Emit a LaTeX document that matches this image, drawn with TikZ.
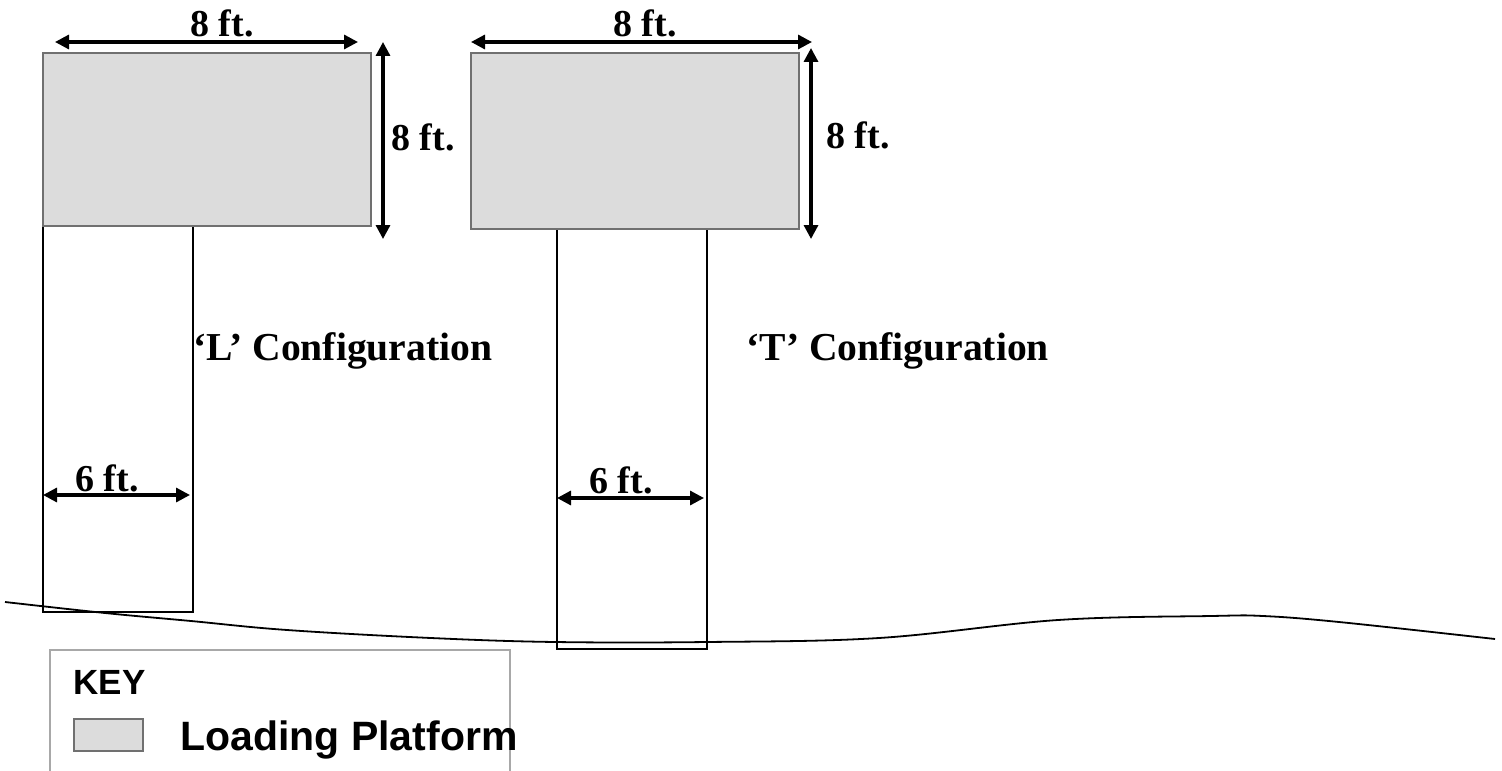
\documentclass[tikz,border=0pt]{standalone}
\usepackage{fontspec}
\setmainfont{Liberation Serif}
\newfontfamily\arialfont{Liberation Sans}
\usetikzlibrary{arrows.meta}
\definecolor{platform}{HTML}{DCDCDC}
\definecolor{platedge}{HTML}{707070}
\definecolor{keyedge}{HTML}{A8A8A8}
\tikzset{
  platformbox/.style={fill=platform, draw=platedge, line width=0.6pt},
  stembox/.style={draw=black, line width=0.9pt, fill=white},
  dimarrow/.style={line width=1.6pt, {Triangle[length=7pt,width=7pt]}-{Triangle[length=7pt,width=7pt]}},
  dimlabel/.style={font=\bfseries\fontsize{19}{21}\selectfont, inner sep=0pt},
  cfglabel/.style={font=\bfseries\fontsize{19.8}{22}\selectfont, inner sep=0pt, anchor=base west},
  ground/.style={line width=0.9pt, black},
}
\begin{document}
\begin{tikzpicture}[x=0.5pt,y=-0.5pt]
\useasboundingbox (0,0) rectangle (1502,770);
% L configuration
\draw[stembox] (43,226) rectangle (193,612);
\draw[platformbox] (43,53) rectangle (371,226);
% T configuration
\draw[stembox] (557,229) rectangle (707,649);
\draw[platformbox] (471,53) rectangle (799,229);
% ground line
\draw[ground] plot[smooth, tension=0.6] coordinates {(5,602) (105,613) (191,621) (287,630) (431,638) (555,642) (707,642) (879,638) (1058,620) (1211,616) (1263,616) (1339,622) (1495,639)};
% dimension coordinates
\coordinate (Lwa) at (55,42);  \coordinate (Lwb) at (358,42);
\coordinate (Lha) at (383,42); \coordinate (Lhb) at (383,239);
\coordinate (Twa) at (471,42); \coordinate (Twb) at (812,42);
\coordinate (Tha) at (811,48); \coordinate (Thb) at (811,239);
\coordinate (Lsa) at (43,495); \coordinate (Lsb) at (190,495);
\coordinate (Tsa) at (557,498); \coordinate (Tsb) at (704,498);
\draw[dimarrow] (Lwa) -- (Lwb);
\draw[dimarrow] (Lha) -- (Lhb);
\draw[dimarrow] (Twa) -- (Twb);
\draw[dimarrow] (Tha) -- (Thb);
\draw[dimarrow] (Lsa) -- (Lsb);
\draw[dimarrow] (Tsa) -- (Tsb);
% labels
\node[dimlabel, anchor=base] (lw) at (222,37) {8 ft.};
\node[dimlabel, anchor=base] (tw) at (645,37) {8 ft.};
\node[dimlabel, anchor=west] (lh) at (391,137) {8 ft.};
\node[dimlabel, anchor=west] (th) at (826,135) {8 ft.};
\node[dimlabel, anchor=base] (ls) at (107,491) {6 ft.};
\node[dimlabel, anchor=base] (ts) at (621,493) {6 ft.};
\node[cfglabel] (lc) at (193,360) {‘L’ Configuration};
\node[cfglabel] (tc) at (746,360) {‘T’ Configuration};
% key
\draw[keyedge, line width=0.6pt] (50,775) -- (50,650) -- (510,650) -- (510,775);
\node[font=\arialfont\bfseries\fontsize{17.5}{19}\selectfont, inner sep=0pt, anchor=base west] (key) at (73,694) {KEY};
\draw[fill=platform, draw=platedge, line width=0.6pt] (74,719) rectangle (143,751);
\node[font=\arialfont\bfseries\fontsize{20.5}{22}\selectfont, inner sep=0pt, anchor=base west] (lp) at (180,750) {Loading Platform};
\end{tikzpicture}
\end{document}
